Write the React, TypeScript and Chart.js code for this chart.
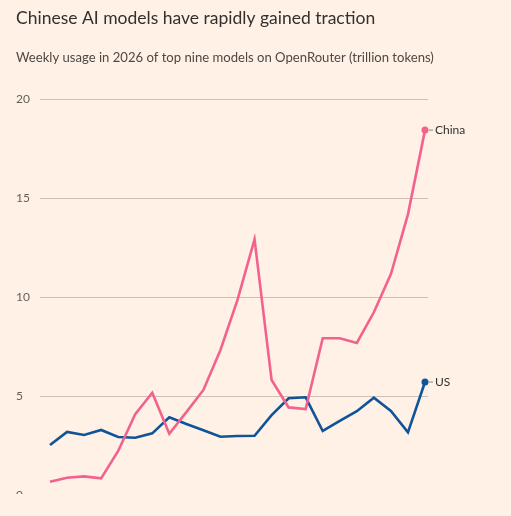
import React, { useEffect, useRef } from "react";
import { Chart, registerables } from "chart.js";

Chart.register(...registerables);

const weeks: string[] = [
  "W1", "W2", "W3", "W4", "W5", "W6", "W7", "W8", "W9", "W10", "W11", "W12",
  "W13", "W14", "W15", "W16", "W17", "W18", "W19", "W20", "W21", "W22", "W23",
];
const chinaValues: number[] = [
  0.69, 0.89, 0.96, 0.86, 2.24, 4.1, 5.18, 3.11, 4.2, 5.32, 7.34, 9.86, 12.92,
  5.82, 4.44, 4.36, 7.93, 7.93, 7.69, 9.24, 11.17, 14.18, 18.43,
];
const usValues: number[] = [
  2.54, 3.2, 3.05, 3.3, 2.95, 2.91, 3.13, 3.94, 3.6, 3.29, 2.96, 3.0, 3.01,
  4.05, 4.9, 4.95, 3.25, 3.76, 4.25, 4.93, 4.26, 3.18, 5.72,
];
const seriesNames: string[] = ["China", "US"];
const yTicks: number[] = [0, 5, 10, 15, 20];

const TITLE = "Chinese AI models have rapidly gained traction";
const SUBTITLE = "Weekly usage in 2026 of top nine models on OpenRouter (trillion tokens)";

const PINK = "#f2628d";
const BLUE = "#0f5499";
const BG = "#fff1e5";

export default function App() {
  const ref = useRef<HTMLCanvasElement | null>(null);

  useEffect(() => {
    document.body.style.margin = "0";
    document.body.style.background = BG;
    const canvas = ref.current;
    if (!canvas) return;

    const titlePlugin = {
      id: "ftTitles",
      beforeDraw(chart: any) {
        const c = chart.ctx;
        c.save();
        c.fillStyle = BG;
        c.fillRect(0, 0, chart.width, chart.height);
        c.textBaseline = "alphabetic";
        c.textAlign = "left";
        c.fillStyle = "#33302e";
        c.font = "17.5px Lato";
        c.fillText(TITLE, 16, 24);
        c.fillStyle = "#4d4845";
        c.font = "13.1px Lato";
        c.fillText(SUBTITLE, 16, 62);
        c.restore();
      },
    };

    const endLabels = {
      id: "endLabels",
      afterDatasetsDraw(chart: any) {
        const c = chart.ctx;
        c.save();
        chart.data.datasets.forEach((ds: any, i: number) => {
          const meta = chart.getDatasetMeta(i);
          const pt = meta.data[meta.data.length - 1];
          if (!pt) return;
          c.strokeStyle = "#8a8580";
          c.lineWidth = 1;
          c.beginPath();
          c.moveTo(pt.x + 4, pt.y);
          c.lineTo(pt.x + 8, pt.y);
          c.stroke();
          c.fillStyle = "#33302e";
          c.font = "12px Lato";
          c.textBaseline = "middle";
          c.textAlign = "left";
          c.fillText(ds.label, pt.x + 10, pt.y + 0.5);
        });
        c.restore();
      },
    };

    const lastIdx = weeks.length - 1;
    const mk = (vals: number[]) => vals.map((v, i) => ({ x: i, y: v }));

    const chart = new Chart(canvas, {
      type: "line",
      data: {
        labels: weeks,
        datasets: [
          {
            label: seriesNames[0],
            data: mk(chinaValues),
            borderColor: PINK,
            backgroundColor: PINK,
            borderWidth: 2.6,
            pointRadius: (ctx: any) => (ctx.dataIndex === lastIdx ? 3.5 : 0),
            pointBorderWidth: 0,
            tension: 0,
            clip: false as any,
          },
          {
            label: seriesNames[1],
            data: mk(usValues),
            borderColor: BLUE,
            backgroundColor: BLUE,
            borderWidth: 2.6,
            pointRadius: (ctx: any) => (ctx.dataIndex === lastIdx ? 3.5 : 0),
            pointBorderWidth: 0,
            tension: 0,
            clip: false as any,
          },
        ],
      },
      options: {
        animation: false,
        responsive: false,
        devicePixelRatio: 1,
        layout: { padding: { top: 99, bottom: 24.6, left: 16, right: 83 } },
        plugins: {
          legend: { display: false },
          tooltip: { enabled: false },
        },
        scales: {
          x: {
            type: "linear",
            display: false,
            min: -0.5867,
            max: 22.176,
          },
          y: {
            min: 0,
            max: 20,
            afterFit: (scale: any) => {
              scale.width = 24;
            },
            afterBuildTicks: (scale: any) => {
              scale.ticks = yTicks.map((v) => ({ value: v }));
            },
            border: { display: false },
            grid: {
              color: "#cdc1b6",
              lineWidth: 1,
              drawTicks: false,
            },
            ticks: {
              padding: 0,
              crossAlign: "far",
              color: "#66605c",
              font: { family: "Lato", size: 12 },
            },
          },
        },
      },
      plugins: [titlePlugin, endLabels],
    });

    return () => chart.destroy();
  }, []);

  return (
    <div
      style={{
        position: "relative",
        width: 511,
        height: 494,
        overflow: "hidden",
        background: BG,
      }}
    >
      <canvas
        ref={ref}
        width={511}
        height={520}
        style={{ display: "block", width: 511, height: 520 }}
      />
    </div>
  );
}
